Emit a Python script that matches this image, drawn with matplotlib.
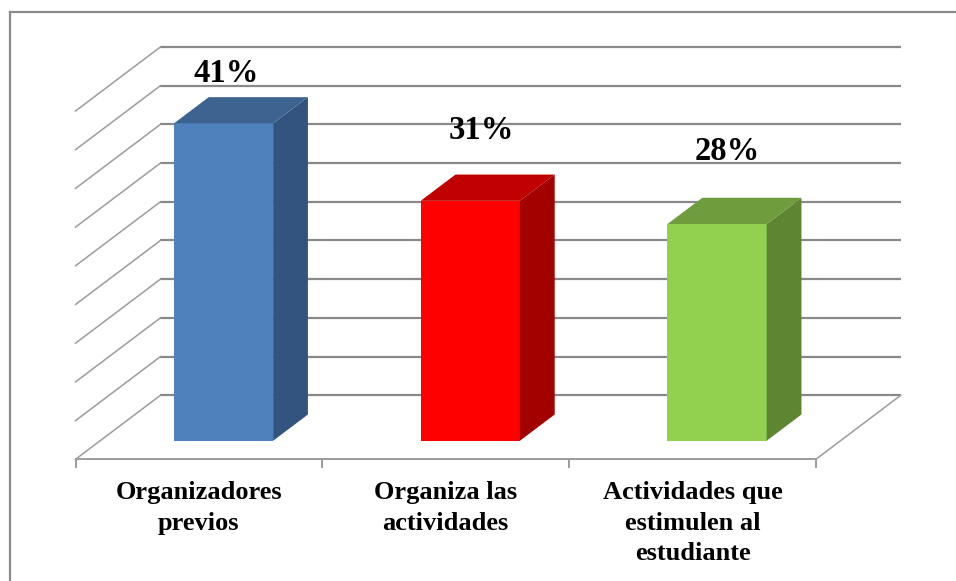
import numpy as np
import matplotlib
matplotlib.use('Agg')
import matplotlib.pyplot as plt
from matplotlib.patches import Polygon
from matplotlib.lines import Line2D

#Data
categories = ['Organizadores\nprevios', 'Organiza las\nactividades',
              'Actividades que\nestimulen al\nestudiante']
values = [41, 31, 28]
value_labels = ['41%', '31%', '28%']
grid_values = np.arange(0, 50, 5)

#Colors (front, top, side)
front_colors = ['#4F81BD', '#FF0000', '#92D050']
top_colors = ['#3D6491', '#C00000', '#6F9C3D']
side_colors = ['#32547E', '#A30000', '#5E8632']

#Fake 3D geometry, in data units
depth_x = 0.344
depth_y = 8.27
bar_d0 = 0.29
bar_d1 = 0.70
bar_width = 0.402
label_dx = [0.01, 0.043, 0.043]
label_dy = [5.35, 8.0, 8.3]

plt.rcParams['font.family'] = ['Liberation Serif', 'DejaVu Serif']

fig = plt.figure(figsize=(9.56, 5.81), dpi=100)
ax = fig.add_axes([0, 0, 1, 1])
ax.set_xlim(-0.306, 3.568)
ax.set_ylim(-15.72, 59.34)
ax.axis('off')

n = len(categories)
wall_col = '#898989'
side_col = '#9c9c9c'

# back wall gridlines
for v in grid_values:
    ax.plot([depth_x, n + depth_x], [v + depth_y, v + depth_y],
            color=wall_col, lw=1.6, solid_capstyle='butt', zorder=1)
    # left wall
    ax.plot([0, depth_x], [v, v + depth_y], color=side_col, lw=1.1, zorder=1)

# floor
ax.plot([0, n], [0, 0], color=side_col, lw=1.4, zorder=1)
ax.plot([n, n + depth_x], [0, depth_y], color=side_col, lw=1.1, zorder=1)
for i in range(n + 1):
    ax.plot([i, i], [0, -0.95], color=side_col, lw=1.4, zorder=1)

# bars
base = bar_d0 * depth_y
shift = bar_d0 * depth_x
dd = bar_d1 - bar_d0
xs = np.arange(n) + 0.5 + shift
ax.bar(xs, values, bar_width, bottom=base, color=front_colors, zorder=3)
for i in range(n):
    xl = xs[i] - bar_width / 2
    xr = xs[i] + bar_width / 2
    top = base + values[i]
    side = [(xr, base), (xr, top), (xr + dd * depth_x, top + dd * depth_y),
            (xr + dd * depth_x, base + dd * depth_y)]
    ax.add_patch(Polygon(side, closed=True, facecolor=side_colors[i],
                         edgecolor='none', zorder=3))
    lid = [(xl, top), (xr, top), (xr + dd * depth_x, top + dd * depth_y),
           (xl + dd * depth_x, top + dd * depth_y)]
    ax.add_patch(Polygon(lid, closed=True, facecolor=top_colors[i],
                         edgecolor='none', zorder=3))
    ax.text(xs[i] + label_dx[i], top + label_dy[i], value_labels[i],
            ha='center', va='baseline', fontsize=23.5, fontweight='bold',
            color='black', zorder=5)

# category labels
for i in range(n):
    ax.text(i + 0.5, -2.8, categories[i], ha='center', va='top',
            fontsize=19, fontweight='bold', linespacing=1.42,
            multialignment='center', color='black', zorder=5)

# chart frame
fx = 9.5 / 956
fy = 1 - 11.5 / 581
fig.add_artist(Line2D([fx, 1.1], [fy, fy], transform=fig.transFigure,
                      color='#8a8a8a', lw=1.6))
fig.add_artist(Line2D([fx, fx], [fy, -0.1], transform=fig.transFigure,
                      color='#8a8a8a', lw=1.6))

fig.savefig('out.png', dpi=100)
